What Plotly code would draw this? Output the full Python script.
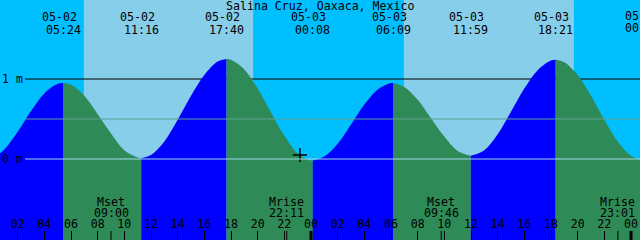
import plotly.graph_objects as go

# ---------------- data (hours counted from 05-02 00:00 local) ----------------
tide_hours = [0, 1, 2, 3, 4, 5, 5.4, 6, 7, 8, 9, 10, 11, 11.267,
              12, 13, 14, 15, 16, 17, 17.667, 18, 19, 20, 21, 22, 23, 24, 24.133,
              25, 26, 27, 28, 29, 30, 30.15, 31, 32, 33, 34, 35, 35.983,
              37, 38, 39, 40, 41, 42, 42.35, 43, 44, 45, 46, 47, 48, 48.867]
tide_heights = [-0.01, 0.12, 0.34, 0.60, 0.82, 0.94, 0.95, 0.93, 0.79, 0.56, 0.32, 0.11, 0.02, 0.01,
                0.05, 0.22, 0.49, 0.79, 1.05, 1.22, 1.25, 1.24, 1.12, 0.88, 0.58, 0.29, 0.07, -0.02, -0.02,
                0.03, 0.19, 0.43, 0.68, 0.87, 0.95, 0.95, 0.90, 0.74, 0.51, 0.28, 0.10, 0.04,
                0.11, 0.31, 0.59, 0.88, 1.11, 1.23, 1.24, 1.21, 1.05, 0.79, 0.49, 0.22, 0.04, -0.02]

extreme_hours = [5.4, 11.267, 17.667, 24.133, 30.15, 35.983, 42.35, 48.867]
extreme_dates = ["05-02", "05-02", "05-02", "05-03", "05-03", "05-03", "05-03", "05-04"]
extreme_times = ["05:24", "11:16", "17:40", "00:08", "06:09", "11:59", "18:21", "00:52"]

sunrise_hours = [6.967, 30.967]
sunset_hours = [19.667, 43.717]

moon_hours = [9.0, 22.183, 33.767, 47.017]
moon_events = ["Mset", "Mrise", "Mset", "Mrise"]
moon_times = ["09:00", "22:11", "09:46", "23:01"]

midnight_hours = [24, 48]

tick_hours = list(range(2, 49, 2))
tick_labels = ["02", "04", "06", "08", "10", "12", "14", "16", "18", "20", "22", "00",
               "02", "04", "06", "08", "10", "12", "14", "16", "18", "20", "22", "00"]

level_values = [1.0, 0.5, 0.0]
level_labels = ["1 m", "", "0 m"]

now_hour = [23.17]
now_height = [0.05]

title = "Salina Cruz, Oaxaca, Mexico"

# ---------------- style ----------------
X0, X1 = 0.675, 48.675
Y0, Y1 = -1.0125, 1.9875
DAY = "#87CEEB"
NIGHT = "#00BFFF"
RISE = "#0000FF"
FALL = "#2E8B57"
FONT = dict(family="DejaVu Sans Mono", size=11.6, color="black")
H = 240.0


def py_to_y(py):
    return Y1 - py * (Y1 - Y0) / H


fig = go.Figure()

# tide fill segments (blue rising, green falling)
bounds = sorted(set([0] + [tide_hours.index(h) for h in extreme_hours if h in tide_hours]
                    + [len(tide_hours) - 1]))
for a, b in zip(bounds[:-1], bounds[1:]):
    xs = tide_hours[a:b + 1]
    ys = tide_heights[a:b + 1]
    col = RISE if ys[-1] > ys[0] else FALL
    fig.add_trace(go.Scatter(x=[xs[0], xs[-1]], y=[Y0 - 1, Y0 - 1], mode="lines",
                             line=dict(width=0), hoverinfo="skip", showlegend=False))
    fig.add_trace(go.Scatter(x=xs, y=ys, mode="lines", fill="tonexty", fillcolor=col,
                             line=dict(width=0, shape="spline", color=col),
                             hoverinfo="skip", showlegend=False))

# current time marker
fig.add_trace(go.Scatter(x=now_hour, y=now_height, mode="markers",
                         marker=dict(symbol="cross-thin", size=10,
                                     line=dict(width=1.5, color="black")),
                         hoverinfo="skip", showlegend=False))

shapes = []
# night bands
night_starts = [X0] + sunset_hours
night_ends = sunrise_hours + [X1]
for s, e in zip(night_starts, night_ends):
    shapes.append(dict(type="rect", xref="x", yref="paper", x0=s, x1=e, y0=0, y1=1,
                       fillcolor=NIGHT, line=dict(width=0), layer="below"))
# level lines
level_colors = ["black", "#5DA08F", "#A0D8EF"]
level_layers = ["below", "above", "above"]
for v, c, lay in zip(level_values, level_colors, level_layers):
    shapes.append(dict(type="line", xref="paper", yref="y", x0=25 / 640, x1=1, y0=v, y1=v,
                       line=dict(color=c, width=1), layer=lay))
# moon ticks
for m in moon_hours:
    shapes.append(dict(type="line", xref="x", yref="paper", x0=m, x1=m, y0=0, y1=9 / H,
                       line=dict(color="black", width=1), layer="above"))
# midnight thick ticks
for m in midnight_hours:
    shapes.append(dict(type="line", xref="x", yref="paper", x0=m, x1=m, y0=0, y1=9 / H,
                       line=dict(color="black", width=3), layer="above"))

ann = []
ann.append(dict(text=title, xref="paper", yref="paper", x=0.5, y=1 - 6 / H,
                showarrow=False, font=FONT, xanchor="center", yanchor="middle"))

# tide high/low labels: annotations when in range, clipped text trace when running off the edge
off_h, off_d, off_t = [], [], []
for h, d, t in zip(extreme_hours, extreme_dates, extreme_times):
    if X0 <= h <= X1:
        ann.append(dict(text=d, xref="x", yref="paper", x=h, y=1 - 17.3 / H, xshift=-4,
                        showarrow=False, font=FONT, xanchor="center", yanchor="middle"))
        ann.append(dict(text=t, xref="x", yref="paper", x=h, y=1 - 29.5 / H,
                        showarrow=False, font=FONT, xanchor="center", yanchor="middle"))
    else:
        off_h.append(h)
        off_d.append(d)
        off_t.append(t)
if off_h:
    fig.add_trace(go.Scatter(x=off_h, y=[py_to_y(17.3)] * len(off_h), mode="text",
                             text=off_d, textposition="middle center", textfont=FONT,
                             cliponaxis=True, hoverinfo="skip", showlegend=False))
    fig.add_trace(go.Scatter(x=off_h, y=[py_to_y(29.5)] * len(off_h), mode="text",
                             text=off_t, textposition="middle center", textfont=FONT,
                             cliponaxis=True, hoverinfo="skip", showlegend=False))

for h, ev, t in zip(moon_hours, moon_events, moon_times):
    ann.append(dict(text=ev, xref="x", yref="paper", x=h, y=1 - 201.7 / H,
                    showarrow=False, font=FONT, xanchor="center", yanchor="middle"))
    ann.append(dict(text=t, xref="x", yref="paper", x=h, y=1 - 213.3 / H,
                    showarrow=False, font=FONT, xanchor="center", yanchor="middle"))
for v, lab in zip(level_values, level_labels):
    if lab:
        ann.append(dict(text=lab, xref="paper", yref="y", x=0, y=v,
                        showarrow=False, font=FONT, xanchor="left", yanchor="middle"))

fig.update_layout(
    width=640, height=240, margin=dict(l=0, r=0, t=0, b=0),
    paper_bgcolor=DAY, plot_bgcolor=DAY, showlegend=False,
    shapes=shapes, annotations=ann,
    xaxis=dict(range=[X0, X1], tickvals=tick_hours, ticktext=tick_labels,
               ticks="inside", ticklen=9, tickwidth=1, tickcolor="black",
               ticklabelposition="inside", tickfont=FONT,
               showgrid=False, zeroline=False, showline=False, fixedrange=True),
    yaxis=dict(range=[Y0, Y1], visible=False, fixedrange=True),
)

fig.write_html("out.html", config={"displayModeBar": False})
